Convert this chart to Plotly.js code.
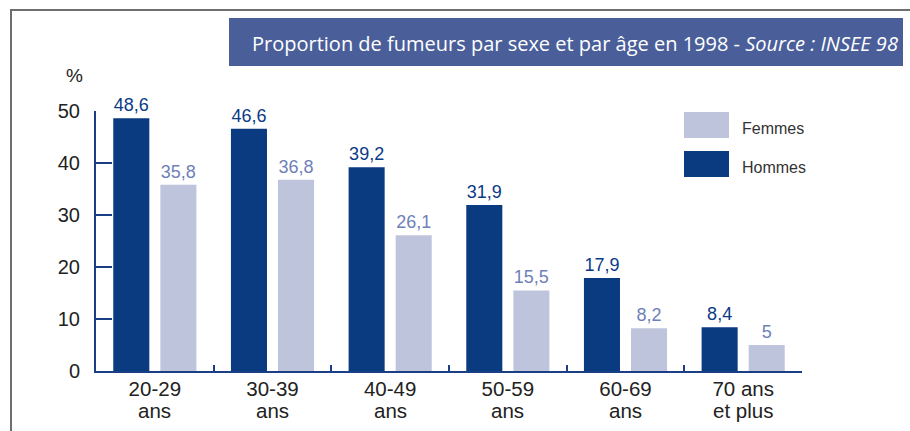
<!DOCTYPE html>
<html><head><meta charset="utf-8">
<script src="https://cdn.plot.ly/plotly-3.0.1.min.js"></script>
<style>html,body{margin:0;padding:0;background:#fff;}#chart{width:910px;height:431px;}</style>
</head><body><div id="chart"></div>
<script>
const categories = ["20-29 ans", "30-39 ans", "40-49 ans", "50-59 ans", "60-69 ans", "70 ans et plus"];
const labelLine1 = ["20-29", "30-39", "40-49", "50-59", "60-69", "70 ans"];
const labelLine2 = ["ans", "ans", "ans", "ans", "ans", "et plus"];
const hommes = [48.6, 46.6, 39.2, 31.9, 17.9, 8.4];
const femmes = [35.8, 36.8, 26.1, 15.5, 8.2, 5];
const yTicks = [0, 10, 20, 30, 40, 50];
const titleText = "Proportion de fumeurs par sexe et par âge en 1998 - <i>Source : INSEE 98</i>";

const W = 910, H = 431;
const M = {l: 96, r: 108, t: 111, b: 60};
const pw = W - M.l - M.r, ph = H - M.t - M.b;
const px = x => (x - M.l) / pw;
const py = y => (H - M.b - y) / ph;

const cHom = "#0a3a80", cFem = "#bfc4dd";
const fmt = v => String(v).replace(".", ",");
const sans = "Liberation Sans, Arial, sans-serif";

const traces = [
  {type: "bar", name: "Hommes", x: categories, y: hommes, marker: {color: cHom},
   text: hommes.map(fmt), textposition: "outside", cliponaxis: false,
   textfont: {family: sans, size: 18, color: "#0b3a86"}, hoverinfo: "none"},
  {type: "bar", name: "Femmes", x: categories, y: femmes, marker: {color: cFem},
   text: femmes.map(fmt), textposition: "outside", cliponaxis: false,
   textfont: {family: sans, size: 18, color: "#6f7fb8"}, hoverinfo: "none"}
];

const shapes = [
  {type: "line", xref: "paper", yref: "paper", x0: px(10), x1: px(912), y0: py(10), y1: py(10), line: {color: "#6e6e6e", width: 2}},
  {type: "line", xref: "paper", yref: "paper", x0: px(11), x1: px(11), y0: py(10), y1: py(433), line: {color: "#6e6e6e", width: 2}},
  {type: "rect", xref: "paper", yref: "paper", x0: px(229), x1: px(903), y0: py(66), y1: py(18), fillcolor: "#4a5f9a", line: {width: 0}},
  {type: "rect", xref: "paper", yref: "paper", x0: px(684), x1: px(729), y0: py(138), y1: py(112), fillcolor: cFem, line: {width: 0}},
  {type: "rect", xref: "paper", yref: "paper", x0: px(684), x1: px(729), y0: py(177), y1: py(151), fillcolor: cHom, line: {width: 0}}
];

const annotations = [
  {xref: "paper", yref: "paper", x: px(250), y: py(43), xanchor: "left", yanchor: "middle", showarrow: false,
   text: titleText, font: {family: "Open Sans, sans-serif", size: 20, color: "#ffffff"}},
  {xref: "paper", yref: "paper", x: px(74), y: py(75), xanchor: "center", yanchor: "middle", showarrow: false,
   text: "%", font: {family: sans, size: 19, color: "#222"}},
  {xref: "paper", yref: "paper", x: px(740), y: py(128), xanchor: "left", yanchor: "middle", showarrow: false,
   text: "Femmes", font: {family: sans, size: 16, color: "#333"}},
  {xref: "paper", yref: "paper", x: px(740), y: py(167), xanchor: "left", yanchor: "middle", showarrow: false,
   text: "Hommes", font: {family: sans, size: 16, color: "#333"}}
].concat(categories.map((c, i) => ({
  xref: "x", yref: "paper", x: c, y: py(410), xanchor: "center", yanchor: "middle", showarrow: false,
  text: labelLine2[i], font: {family: sans, size: 20.5, color: "#222"}
})));

const layout = {
  width: W, height: H, margin: M,
  paper_bgcolor: "#fff", plot_bgcolor: "#fff",
  showlegend: false, barmode: "group", bargap: 0.2, bargroupgap: 0.234,
  xaxis: {type: "category", categoryarray: categories, tickvals: categories, ticktext: labelLine1,
          showline: true, linecolor: "#1a3f85", linewidth: 2,
          ticks: "inside", tickson: "boundaries", ticklen: 6, tickwidth: 2, tickcolor: "#1a3f85",
          ticklabelstandoff: -2,
          tickfont: {family: sans, size: 20.5, color: "#222"},
          showgrid: false, zeroline: false, fixedrange: true},
  yaxis: {range: [0, 50], tickvals: yTicks, ticktext: yTicks.map(String), showline: true, linecolor: "#1a3f85", linewidth: 2,
          ticks: "inside", ticklen: 16, tickwidth: 2, tickcolor: "#1a3f85", ticklabelstandoff: 10,
          tickfont: {family: sans, size: 20, color: "#222"},
          showgrid: false, zeroline: false, fixedrange: true},
  shapes, annotations
};

Plotly.newPlot("chart", traces, layout, {displayModeBar: false, staticPlot: true});
</script></body></html>
